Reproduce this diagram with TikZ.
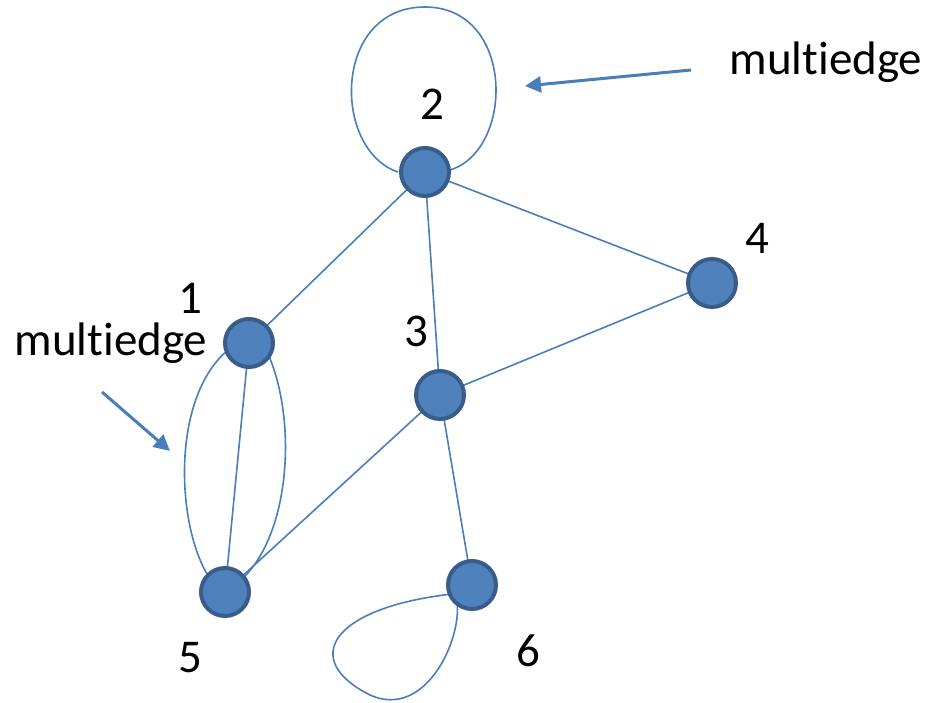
\documentclass[tikz,border=0pt]{standalone}
\usepackage{fontspec}
\setmainfont[Ligatures=NoCommon]{Carlito}
\usetikzlibrary{arrows.meta}
\definecolor{edgeblue}{HTML}{4A7EBB}
\definecolor{nodefill}{HTML}{4F81BD}
\definecolor{nodeborder}{HTML}{385D8A}
\begin{document}
\begin{tikzpicture}[x=1pt,y=-1pt,
  vertex/.style={circle,fill=nodefill,draw=nodeborder,line width=4pt,minimum size=48pt,inner sep=0pt},
  edge/.style={draw=edgeblue,line width=1.6pt},
  pointer/.style={draw=edgeblue,line width=3pt,-{Triangle[length=16pt,width=16pt]}},
  lbl/.style={font=\fontsize{47}{50}\selectfont,inner sep=0pt}]
\useasboundingbox (0,0) rectangle (935,703);
% coordinates
\coordinate (p2) at (425,172);
\coordinate (p4) at (712,283);
\coordinate (p1) at (249,343);
\coordinate (p3) at (440,395);
\coordinate (p5) at (225,592);
\coordinate (p6) at (472,585);
% edges
\draw[edge] (p2) -- (p1);
\draw[edge] (p2) -- (p3);
\draw[edge] (p2) -- (p4);
\draw[edge] (p4) -- (p3);
\draw[edge] (p3) -- (p5);
\draw[edge] (p3) -- (p6);
\draw[edge] (p1) -- (p5);
\draw[edge] (243,340) .. controls (165,380) and (175,540) .. (215,585);
\draw[edge] (258,335) .. controls (300,400) and (295,540) .. (235,585);
% loop on 2
\draw[edge] (398,172) .. controls (332,150) and (332,7) .. (425,7) .. controls (515,7) and (515,150) .. (450,170);
% loop on 6
\draw[edge] (452,594) .. controls (330,608) and (300,660) .. (370,695) .. controls (425,720) and (462,640) .. (457,602);
% nodes
\node[vertex] (n2) at (p2) {};
\node[vertex] (n4) at (p4) {};
\node[vertex] (n1) at (p1) {};
\node[vertex] (n3) at (p3) {};
\node[vertex] (n5) at (p5) {};
\node[vertex] (n6) at (p6) {};
% labels
\node[lbl] (l2) at (432,104) {2};
\node[lbl] (l4) at (757,238) {4};
\node[lbl] (l1) at (190,298) {1};
\node[lbl] (l3) at (416,331) {3};
\node[lbl] (l5) at (190,658) {5};
\node[lbl] (l6) at (528,651) {6};
\node[lbl] (m1) at (826,62) {multiedge};
\node[lbl] (m2) at (111,343) {multiedge};
% pointers
\coordinate (a1s) at (691,70);
\coordinate (a1e) at (525,86);
\coordinate (a2s) at (102,392);
\coordinate (a2e) at (170,451);
\draw[pointer] (a1s) -- (a1e);
\draw[pointer] (a2s) -- (a2e);
\end{tikzpicture}
\end{document}
